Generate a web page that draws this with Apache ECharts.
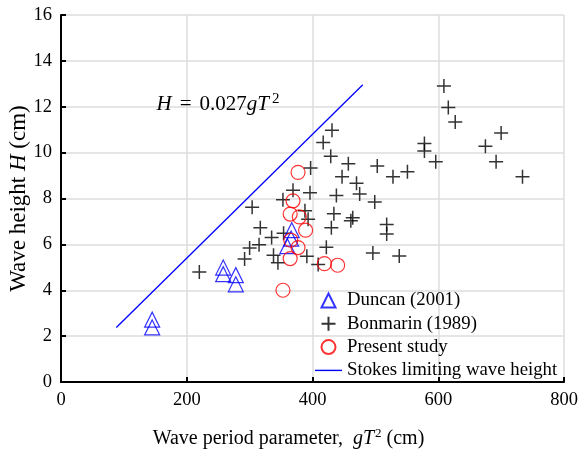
<!DOCTYPE html>
<html><head><meta charset="utf-8">
<script src="https://cdn.jsdelivr.net/npm/echarts@6/dist/echarts.min.js"></script>
<style>html,body{margin:0;padding:0;background:#fff}#c{width:580px;height:450px}</style>
</head><body><div id="c"></div>
<script>
const xTicks = [0, 200, 400, 600, 800];
const yTicks = [0, 2, 4, 6, 8, 10, 12, 14, 16];
const duncan = [[145,2.72],[145,2.38],[258,4.99],[258,4.70],[278,4.66],[278,4.26],[367,6.62],[366,6.25],[360,5.92]];
const bonmarin = [[220,4.80],[304,7.62],[317,6.73],[335,6.30],[315,5.98],[300,5.84],[292,5.36],[338,5.53],[345,5.20],
  [353,7.95],[354,6.48],[369,8.36],[396,8.25],[397,9.33],[388,7.47],[393,7.10],[391,5.48],[409,5.12],[422,5.87],
  [417,10.44],[431,10.98],[429,9.84],[457,9.52],[503,9.42],[528,8.95],[551,9.17],[447,8.95],[470,8.67],[475,8.20],
  [438,8.13],[499,7.85],[434,7.33],[464,7.16],[461,7.03],[430,6.72],[518,6.87],[518,6.45],[496,5.62],[538,5.49],
  [578,10.40],[578,10.07],[596,9.60],[609,12.90],[616,11.97],[627,11.34],[700,10.86],[675,10.28],[692,9.60],[734,8.95]];
const present = [[377,9.14],[369,7.90],[364.5,7.32],[379,7.20],[389,6.62],[365.5,6.18],[377,5.86],[364.5,5.38],[419,5.16],[440,5.09],[353,4.00]];
const stokesX = [88, 480];
const stokesY = [2.376, 12.96];
const seriesNames = ['Duncan (2001)', 'Bonmarin (1989)', 'Present study', 'Stokes limiting wave height'];
const annot = {x: 152, y: 12.08};

const SERIF = 'Liberation Serif';
const chart = echarts.init(document.getElementById('c'), null, {renderer: 'canvas'});
const clear = 'rgba(0,0,0,0)';
const axisCommon = {
  type: 'value',
  axisLine: {show: true, onZero: false, lineStyle: {color: '#000', width: 2}},
  axisTick: {show: true, inside: true, length: 5, lineStyle: {color: '#000', width: 2}},
  splitLine: {show: true, showMinLine: true, showMaxLine: true, lineStyle: {color: '#dcdcdc', width: 1.5}},
  nameLocation: 'middle',
  nameMoveOverlap: false
};
chart.setOption({
  animation: false,
  backgroundColor: '#fff',
  grid: {left: 61, right: 16, top: 15, bottom: 68, containLabel: false, outerBoundsMode: 'none'},
  xAxis: Object.assign({}, axisCommon, {
    min: xTicks[0], max: xTicks[xTicks.length - 1], interval: xTicks[1] - xTicks[0],
    axisLabel: {color: '#000', fontFamily: SERIF, fontSize: 18.5, margin: 9},
    name: 'Wave period parameter,  {i|gT}{s|2} (cm)',
    nameGap: 45,
    nameTextStyle: {color: '#000', fontFamily: SERIF, fontSize: 20, padding: [0, 48, 0, 0],
      rich: {i: {fontFamily: SERIF, fontStyle: 'italic', fontSize: 20, color: '#000'},
             s: {fontFamily: SERIF, fontSize: 13, color: '#000', padding: [0, 0, 11, 1]}}}
  }),
  yAxis: Object.assign({}, axisCommon, {
    min: yTicks[0], max: yTicks[yTicks.length - 1], interval: yTicks[1] - yTicks[0],
    axisLabel: {color: '#000', fontFamily: SERIF, fontSize: 18.5, margin: 9},
    name: 'Wave height {i|H} (cm)',
    nameGap: 31,
    nameTextStyle: {color: '#000', fontFamily: SERIF, fontSize: 23,
      rich: {i: {fontFamily: SERIF, fontStyle: 'italic', fontSize: 23, color: '#000'}}}
  }),
  legend: {
    orient: 'vertical', left: 315, top: 291, padding: 0,
    itemWidth: 27, itemHeight: 14, itemGap: 4.3,
    symbolKeepAspect: true,
    textStyle: {color: '#000', fontFamily: SERIF, fontSize: 18.8, lineHeight: 17},
    data: [
      {name: seriesNames[0], icon: 'path://M0,-1L1,1L-1,1Z'},
      {name: seriesNames[1]},
      {name: seriesNames[2]},
      {name: seriesNames[3], icon: 'path://M0,0L27,0L27,1.4L0,1.4Z'}
    ],
    selectedMode: false
  },
  series: [
    {name: seriesNames[0], type: 'scatter', data: duncan, symbol: 'triangle', symbolSize: 15,
     itemStyle: {color: clear, borderColor: '#0000ff', borderWidth: 1.2}, emphasis: {disabled: true}, z: 3},
    {name: seriesNames[1], type: 'scatter', data: bonmarin, symbol: 'path://M0,-1L0,1M-1,0L1,0', symbolSize: 14,
     itemStyle: {color: clear, borderColor: '#000', borderWidth: 1.5}, emphasis: {disabled: true}, z: 2},
    {name: seriesNames[2], type: 'scatter', data: present, symbol: 'circle', symbolSize: 14,
     itemStyle: {color: clear, borderColor: '#ff0000', borderWidth: 1.2}, emphasis: {disabled: true}, z: 4},
    {name: seriesNames[3], type: 'line', data: stokesX.map((x, i) => [x, stokesY[i]]), symbol: 'none', showSymbol: false,
     lineStyle: {color: '#0000ff', width: 1.3}, itemStyle: {color: '#0000ff'}, emphasis: {disabled: true}, z: 5,
     markPoint: {
       symbol: 'circle', symbolSize: 0, silent: true,
       data: [{coord: [annot.x, annot.y]}],
       label: {show: true, position: 'right', distance: 0,
         formatter: '{i|H}{e|=}0.027{i|gT}{s|2}',
         color: '#000', fontFamily: SERIF, fontSize: 21,
         rich: {i: {fontFamily: SERIF, fontStyle: 'italic', fontSize: 21, color: '#000'},
                e: {fontFamily: SERIF, fontSize: 21, color: '#000', padding: [0, 8, 0, 8]},
                s: {fontFamily: SERIF, fontSize: 15, color: '#000', padding: [0, 0, 11, 3]}}}
     }}
  ]
});
</script></body></html>
